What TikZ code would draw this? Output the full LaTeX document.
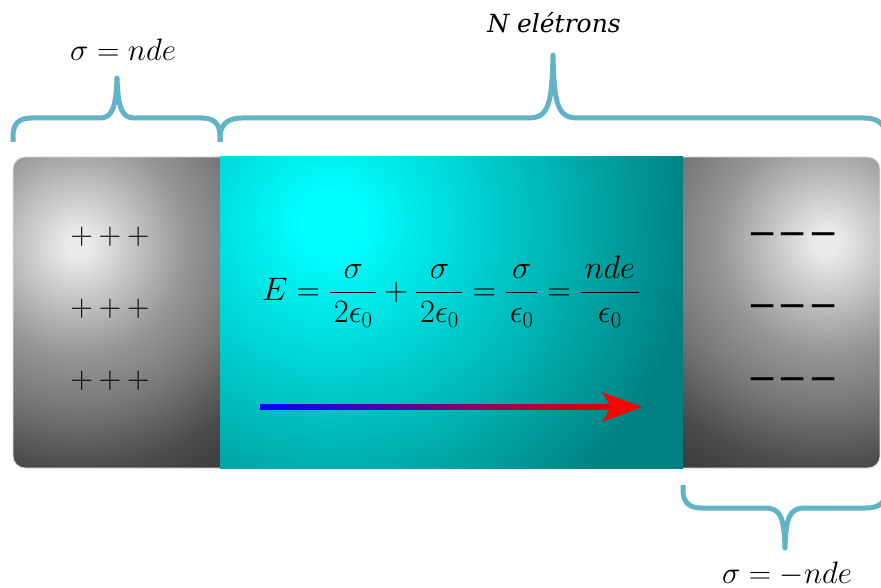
\RequirePackage{fix-cm}
\documentclass[tikz,border=0pt]{standalone}
\usepackage[no-math]{fontspec}
\newfontfamily\labelfont{DejaVu Serif}
\newfontfamily\symfont{DejaVu Sans}
\definecolor{bracecol}{RGB}{98,179,199}
\pgfdeclareradialshading{plateshade}{\pgfpoint{0bp}{0bp}}{color(0bp)=(black!8); color(1bp)=(black!8); color(9bp)=(black!41); color(13.5bp)=(black!53); color(18.5bp)=(black!70); color(21bp)=(black!75); color(25bp)=(black!77); color(50bp)=(black!77)}
\pgfdeclareradialshading{gapshade}{\pgfpoint{0bp}{0bp}}{color(0bp)=(cyan); color(1bp)=(cyan); color(13bp)=(teal); color(50bp)=(teal)}
\newcommand\padfrac[2]{\frac{\mkern2mu#1\mkern2mu}{\mkern2mu#2\mkern2mu}}
\tikzset{
  braceline/.style={draw=bracecol, line width=5pt, line join=round},
  mathlbl/.style={font=\fontsize{31}{37}\selectfont, inner sep=0pt, anchor=base},
  eqlbl/.style={font=\fontsize{32.5}{39}\selectfont, inner sep=0pt, anchor=base},
  plusrow/.style={font=\fontsize{31}{37}\selectfont, inner sep=0pt, anchor=base},
  minusrow/.style={font=\symfont\fontsize{36}{40}\selectfont, inner sep=0pt, anchor=base},
  plateedge/.style={draw=black!12, line width=0.8pt}
}
\begin{document}
\begin{tikzpicture}[x=1pt,y=-1pt]
\useasboundingbox (0,0) rectangle (881,588);
% left plate
\begin{scope}
\clip (220,157) -- (25,157) arc[start angle=270,end angle=180,radius=12] -- (13,456) arc[start angle=180,end angle=90,radius=12] -- (220,468) -- cycle;
\shade[shading=plateshade] (78,245) circle (300);
\end{scope}
\path[plateedge] (220,157) -- (25,157) arc[start angle=270,end angle=180,radius=12] -- (13,456) arc[start angle=180,end angle=90,radius=12] -- (220,468);
% middle region
\begin{scope}
\clip (220,157) rectangle (683,468);
\shade[shading=gapshade] (330,222) circle (700);
\end{scope}
% right plate
\begin{scope}
\clip (683,157) -- (868,157) arc[start angle=270,end angle=360,radius=12] -- (880,456) arc[start angle=0,end angle=90,radius=12] -- (683,468) -- cycle;
\shade[shading=plateshade] (827,243) circle (300);
\end{scope}
\path[plateedge] (683,157) -- (868,157) arc[start angle=270,end angle=360,radius=12] -- (880,456) arc[start angle=0,end angle=90,radius=12] -- (683,468);
% charges
\node[plusrow] (p1) at (110,244) {+\hspace{6pt}+\hspace{6pt}+};
\node[plusrow] (p2) at (110,316) {+\hspace{6pt}+\hspace{6pt}+};
\node[plusrow] (p3) at (110,388) {+\hspace{6pt}+\hspace{6pt}+};
\node[minusrow] (m1) at (793,246) {−−−};
\node[minusrow] (m2) at (793,317) {−−−};
\node[minusrow] (m3) at (793,390) {−−−};
% equation
\node[eqlbl] (eq) at (451,300) {$\displaystyle E=\padfrac{\sigma}{2\epsilon_0}+\padfrac{\sigma}{2\epsilon_0}=\padfrac{\sigma}{\epsilon_0}=\padfrac{nde}{\epsilon_0}$};
% field arrow
\coordinate (aL) at (260,407);
\coordinate (aR) at (612,407);
\coordinate (aT) at (642,407);
\shade[left color=blue, right color=red!90!black] ([yshift=-2.5pt]aL) rectangle ([yshift=2.5pt]aR);
\fill[red] (aT) -- (602,392) .. controls (607,399) .. (611,407) .. controls (607,415) .. (602,422) -- cycle;
% braces
\draw[braceline] (13,142) -- (13,136) .. controls (13,124) and (19,118) .. (31,118) -- (100,118) .. controls (112,118) and (116,108) .. (117,78) .. controls (118,108) and (122,118) .. (134,118) -- (202,118) .. controls (214,118) and (220,124) .. (220,136) -- (220,142);
\draw[braceline] (220,142) -- (220,138) .. controls (220,125) and (227,118) .. (242,118) -- (528,118) .. controls (548,118) and (552,106) .. (553,55) .. controls (554,106) and (558,118) .. (578,118) -- (864,118) .. controls (879,118) and (886,125) .. (886,138) -- (886,142);
\draw[braceline] (683,485) -- (683,490) .. controls (683,502) and (689,508) .. (701,508) -- (765,508) .. controls (781,508) and (784,518) .. (785,548) .. controls (786,518) and (789,508) .. (805,508) -- (866,508) .. controls (880,508) and (886,502) .. (886,490) -- (886,485);
% labels
\node[mathlbl] (sigtop) at (123,61) {$\sigma = nde$};
\node[mathlbl] (sigbot) at (787,583) {$\sigma = -nde$};
\node[font=\labelfont\itshape\fontsize{25}{30}\selectfont, inner sep=0pt, anchor=base] (nlab) at (554,33) {N elétrons};
\end{tikzpicture}
\end{document}
